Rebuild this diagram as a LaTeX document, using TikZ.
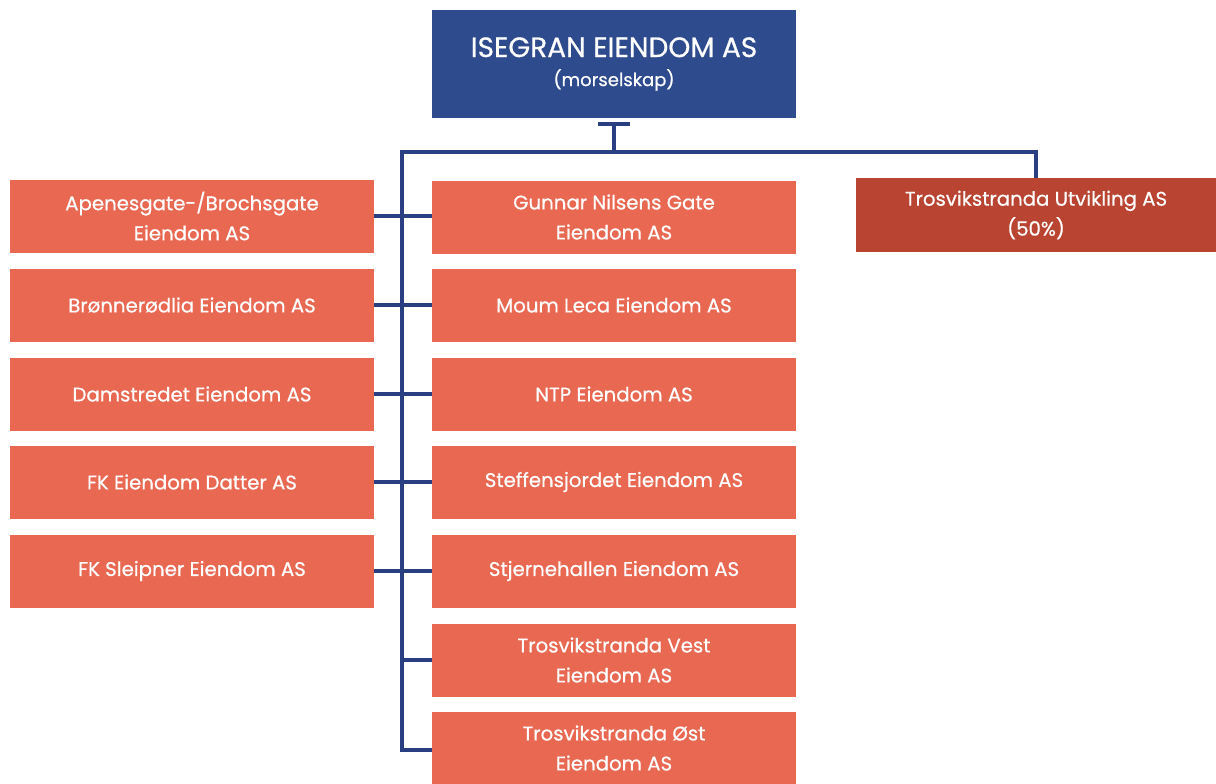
\documentclass[tikz,border=0pt]{standalone}
\usepackage{fontspec}
\setmainfont{Poppins}[FakeBold=0.6]
\usetikzlibrary{calc}

\definecolor{morblue}{HTML}{2E4B8E}
\definecolor{datter}{HTML}{E96852}
\definecolor{deleid}{HTML}{B84431}
\definecolor{linje}{HTML}{2A3F82}

\tikzset{
  selskap/.style={fill=datter, text=white, minimum width=273pt, minimum height=54.75pt,
                  align=center, inner sep=0pt, font=\fontsize{14.8}{22.5}\selectfont},
  linjer/.style={draw=linje, line width=2.3pt},
}

\begin{document}
\begin{tikzpicture}[x=0.75pt, y=-0.75pt]
\useasboundingbox (0,0) rectangle (1216,783);

% morselskap
\node[fill=morblue, text=white, minimum width=273pt, minimum height=81pt, align=center, inner sep=0pt]
  (mor) at (614,64) {{\fontsize{21}{24}\selectfont ISEGRAN EIENDOM AS}\\[8pt]{\fontsize{13.5}{16}\selectfont (morselskap)}};

% venstre kolonne
\node[selskap] (v1) at (192,216) {Apenesgate-/Brochsgate\\Eiendom AS};
\node[selskap] (v2) at (192,305) {Brønnerødlia Eiendom AS};
\node[selskap] (v3) at (192,394) {Damstredet Eiendom AS};
\node[selskap] (v4) at (192,482) {FK Eiendom Datter AS};
\node[selskap] (v5) at (192,571) {FK Sleipner Eiendom AS};

% midtre kolonne
\node[selskap] (m1) at (614,217) {Gunnar Nilsens Gate\\Eiendom AS};
\node[selskap] (m2) at (614,305) {Moum Leca Eiendom AS};
\node[selskap] (m3) at (614,394) {NTP Eiendom AS};
\node[selskap] (m4) at (614,482) {Steffensjordet Eiendom AS};
\node[selskap] (m5) at (614,571) {Stjernehallen Eiendom AS};
\node[selskap] (m6) at (614,660) {Trosvikstranda Vest\\Eiendom AS};
\node[selskap] (m7) at (614,748) {Trosvikstranda Øst\\Eiendom AS};

% 50 %-eid
\node[selskap, fill=deleid, minimum width=270pt, minimum height=55.5pt] (tu) at (1036,215)
  {Trosvikstranda Utvikling AS\\(50\%)};

% linjer
\coordinate (cap) at (614,124);
\coordinate (topp) at (402,152);
\coordinate (bunn) at (402,750);
\draw[linjer] ($(cap)+(-16,0)$) -- ($(cap)+(16,0)$);
\draw[linjer] (cap) -- (cap |- topp) -| (tu.north);
\draw[linjer] (cap |- topp) -- (topp) -- (bunn) -- (bunn -| m7.west);
\foreach \i in {1,...,5}
  \draw[linjer] (v\i.east) -- (v\i.east -| m\i.west);
\draw[linjer] (topp |- m6.west) -- (m6.west);
\end{tikzpicture}
\end{document}
